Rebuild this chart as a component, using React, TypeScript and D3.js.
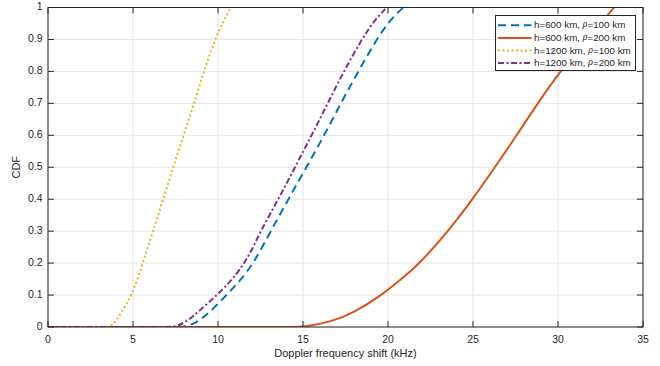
import * as d3 from 'd3';
import { useEffect, useRef } from 'react';

// CDF curves: [Doppler shift kHz, CDF]
const h600r100: [number, number][] = [
    [0, 0], [6, 0], [7.4, 0], [8.0, 0], [8.7, 0.012], [9.4, 0.04], [10.5, 0.1], [11.3, 0.145],
    [12.1, 0.2], [13.1, 0.3], [14.14, 0.4], [15.2, 0.5], [16.25, 0.6], [17.22, 0.7],
    [18.25, 0.8], [19.33, 0.9], [20.1, 0.96], [20.9, 1]
];
const h600r200: [number, number][] = [
    [0, 0], [13, 0], [14.4, 0], [15, 0], [16.6, 0.015], [18, 0.045], [19.63, 0.1],
    [20.8, 0.15], [21.88, 0.2], [23.55, 0.3], [24.98, 0.4], [26.29, 0.5], [27.57, 0.6],
    [28.8, 0.7], [30.12, 0.8], [31.69, 0.9], [33.3, 1]
];
const h1200r100: [number, number][] = [
    [0, 0], [2, 0], [3.3, 0], [3.75, 0], [4.25, 0.04], [4.96, 0.1], [5.57, 0.2], [6.18, 0.3],
    [6.78, 0.4], [7.36, 0.5], [7.97, 0.6], [8.6, 0.7], [9.17, 0.8], [9.82, 0.9],
    [10.25, 0.95], [10.76, 1]
];
const h1200r200: [number, number][] = [
    [0, 0], [5.5, 0], [6.9, 0], [7.5, 0], [8.2, 0.018], [8.97, 0.054], [9.95, 0.1],
    [11.1, 0.163], [11.9, 0.23], [12.5, 0.3], [13.55, 0.4], [14.53, 0.5], [15.51, 0.6],
    [16.45, 0.7], [17.4, 0.8], [18.45, 0.9], [19.2, 0.96], [19.92, 1]
];

const xTicks = [0, 5, 10, 15, 20, 25, 30, 35];
const yTicks = [0, 0.1, 0.2, 0.3, 0.4, 0.5, 0.6, 0.7, 0.8, 0.9, 1];

const series = [
    { h: '600', rho: '100', data: h600r100, color: '#0072BD', dash: '8,5' },
    { h: '600', rho: '200', data: h600r200, color: '#D95319', dash: 'none' },
    { h: '1200', rho: '100', data: h1200r100, color: '#EDB120', dash: '2,2.5' },
    { h: '1200', rho: '200', data: h1200r200, color: '#7E2F8E', dash: '6,2.5,2,2.5' }
];

const FONT = '"Liberation Sans", Arial, Helvetica, sans-serif';
const AXIS = '#262626';

const App = () => {
    const svgRef = useRef<SVGSVGElement>(null);

    useEffect(() => {
        const svg = d3.select(svgRef.current);
        svg.selectAll('*').remove();

        const margin = { top: 7.5, right: 17, bottom: 39, left: 48 };
        const width = 660, height = 366;
        const innerWidth = width - margin.left - margin.right;
        const innerHeight = height - margin.top - margin.bottom;

        const x = d3.scaleLinear().domain([0, 35]).range([0, innerWidth]);
        const y = d3.scaleLinear().domain([0, 1]).range([innerHeight, 0]);

        const g = svg.append('g').attr('transform', `translate(${margin.left},${margin.top})`);

        g.append('clipPath').attr('id', 'plot-clip')
            .append('rect').attr('width', innerWidth).attr('height', innerHeight);

        // grid
        g.selectAll('.gx').data(xTicks).enter().append('line')
            .attr('x1', d => x(d)).attr('x2', d => x(d))
            .attr('y1', 0).attr('y2', innerHeight)
            .attr('stroke', '#e3e3e3').attr('stroke-width', 1);
        g.selectAll('.gy').data(yTicks).enter().append('line')
            .attr('x1', 0).attr('x2', innerWidth)
            .attr('y1', d => y(d)).attr('y2', d => y(d))
            .attr('stroke', '#e3e3e3').attr('stroke-width', 1);

        // lines
        const line = d3.line<[number, number]>()
            .x(d => x(d[0]))
            .y(d => y(d[1]))
            .curve(d3.curveBasis);

        const lines = g.append('g').attr('clip-path', 'url(#plot-clip)');
        series.forEach(s => {
            lines.append('path')
                .datum(s.data)
                .attr('fill', 'none')
                .attr('stroke', s.color)
                .attr('stroke-width', 2)
                .attr('stroke-dasharray', s.dash)
                .attr('d', line);
        });

        // box + ticks
        const tick = 6;
        g.append('rect').attr('width', innerWidth).attr('height', innerHeight)
            .attr('fill', 'none').attr('stroke', AXIS).attr('stroke-width', 1);
        xTicks.forEach(t => {
            g.append('line').attr('x1', x(t)).attr('x2', x(t)).attr('y1', innerHeight).attr('y2', innerHeight - tick).attr('stroke', AXIS);
            g.append('line').attr('x1', x(t)).attr('x2', x(t)).attr('y1', 0).attr('y2', tick).attr('stroke', AXIS);
        });
        yTicks.forEach(t => {
            g.append('line').attr('x1', 0).attr('x2', tick).attr('y1', y(t)).attr('y2', y(t)).attr('stroke', AXIS);
            g.append('line').attr('x1', innerWidth).attr('x2', innerWidth - tick).attr('y1', y(t)).attr('y2', y(t)).attr('stroke', AXIS);
        });

        // tick labels
        g.selectAll('.xl').data(xTicks).enter().append('text')
            .attr('x', d => x(d)).attr('y', innerHeight + 13)
            .attr('text-anchor', 'middle').attr('dominant-baseline', 'middle')
            .style('font-family', FONT).style('font-size', '10.5px').attr('fill', AXIS)
            .text(d => d);
        g.selectAll('.yl').data(yTicks).enter().append('text')
            .attr('x', -5.5).attr('y', d => y(d))
            .attr('text-anchor', 'end').attr('dominant-baseline', 'middle')
            .style('font-family', FONT).style('font-size', '10.5px').attr('fill', AXIS)
            .text(d => d);

        // axis labels
        svg.append('text')
            .attr('x', margin.left + innerWidth / 2).attr('y', 354)
            .attr('text-anchor', 'middle').attr('dominant-baseline', 'middle')
            .style('font-family', FONT).style('font-size', '11px').attr('fill', AXIS)
            .text('Doppler frequency shift (kHz)');
        svg.append('text')
            .attr('transform', `translate(17,${margin.top + innerHeight / 2}) rotate(-90)`)
            .attr('text-anchor', 'middle').attr('dominant-baseline', 'middle')
            .style('font-family', FONT).style('font-size', '11px').attr('fill', AXIS)
            .text('CDF');

        // legend
        const lg = svg.append('g').attr('transform', 'translate(495.5,15.5)');
        lg.append('rect').attr('width', 140).attr('height', 55)
            .attr('fill', 'white').attr('stroke', AXIS).attr('stroke-width', 1);
        series.forEach((s, i) => {
            const ry = 9.8 + i * 12.6;
            lg.append('line').attr('x1', 2.5).attr('x2', 36).attr('y1', ry).attr('y2', ry)
                .attr('stroke', s.color).attr('stroke-width', 2).attr('stroke-dasharray', s.dash);
            const t = lg.append('text').attr('x', 38.5).attr('y', ry)
                .attr('dominant-baseline', 'middle')
                .style('font-family', FONT).style('font-size', '9.8px').attr('fill', AXIS);
            t.append('tspan').text(`h=${s.h} km, `);
            t.append('tspan').style('font-family', '"Liberation Serif", serif').style('font-style', 'italic').text('ρ');
            t.append('tspan').text(`=${s.rho} km`);
        });
    }, []);

    return (
        <div style={{ position: 'absolute', left: 0, top: 0 }}>
            <svg ref={svgRef} width={660} height={366} style={{ display: 'block', background: 'white' }}></svg>
        </div>
    );
};

export default App;
